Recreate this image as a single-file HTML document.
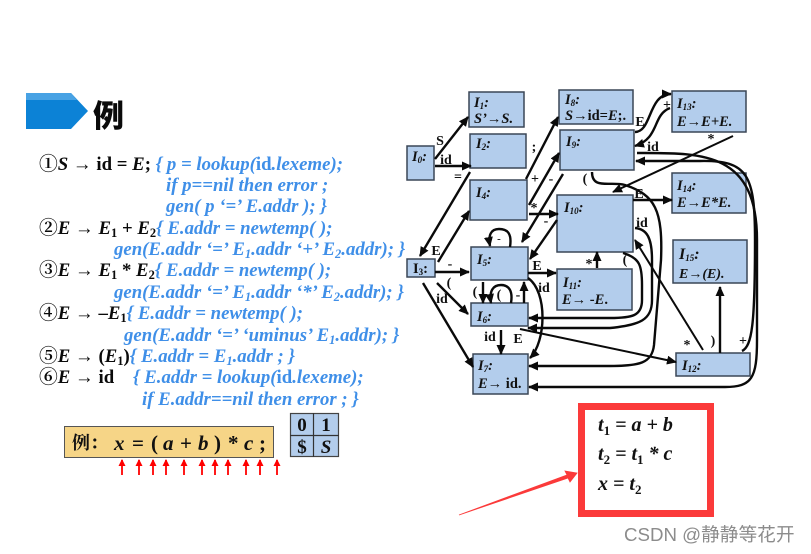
<!DOCTYPE html>
<html><head><meta charset="utf-8">
<style>
html,body{margin:0;padding:0;background:#fff}
#p{position:relative;width:811px;height:554px;overflow:hidden;background:#fff}
svg{position:absolute;left:0;top:0}
.t{font-family:"Liberation Serif","Noto Serif CJK SC",serif;font-weight:bold;font-size:18.8px;fill:#0a0a0a}
.b{fill:#3f8fe8;font-style:italic}
.i{font-style:italic}
.n{fill:#b3cdec;stroke:#3a4656;stroke-width:1.5}
.l{font-family:"Liberation Serif",serif;font-weight:bold;font-size:14.5px;fill:#111}
.m{font-family:"Liberation Serif",serif;font-weight:bold;font-size:14px;fill:#111;text-anchor:middle}
.e{fill:none;stroke:#0a0a0a;stroke-width:2.4}
.r{fill:none;stroke:#f00;stroke-width:1.8}
</style></head><body><div id="p">
<svg width="811" height="554" viewBox="0 0 811 554" xmlns="http://www.w3.org/2000/svg">
<defs>
<marker id="a" markerUnits="userSpaceOnUse" markerWidth="12" markerHeight="10" refX="9" refY="4.500" orient="auto"><path d="M0,0L10,4.500L0,9z" fill="#0a0a0a"/></marker>
<marker id="ra" markerUnits="userSpaceOnUse" markerWidth="8" markerHeight="8" refX="6" refY="3.500" orient="auto"><path d="M0,0L7,3.500L0,7z" fill="#f00"/></marker>
</defs>

<!-- header -->
<path d="M26,93H71L88,111L71,129H26z" fill="#0c82d6"/>
<path d="M26,93H71L77,100H26z" fill="#48a2e4"/>
<text x="93" y="127" font-family="'Noto Sans CJK SC',sans-serif" font-weight="900" font-size="31" fill="#0a0a0a">例</text>

<!-- grammar -->
<text class="t" x="39" y="170">①<tspan class="i">S</tspan> → id = <tspan class="i">E</tspan>; <tspan class="b">{ p = lookup(</tspan><tspan fill="#3f8fe8">id</tspan><tspan class="b">.lexeme);</tspan></text>
<text class="t b" x="166" y="191">if p==nil then error ;</text>
<text class="t b" x="166" y="212">gen( p ‘=’ E.addr ); }</text>
<text class="t" x="39" y="234">②<tspan class="i">E</tspan> → <tspan class="i">E</tspan><tspan font-size="12.500" dy="3">1</tspan><tspan dy="-3"> + </tspan><tspan class="i">E</tspan><tspan font-size="12.500" dy="3">2</tspan><tspan class="b" dy="-3">{ E.addr = newtemp( );</tspan></text>
<text class="t b" x="114" y="255">gen(E.addr ‘=’ E<tspan font-size="12.500" dy="3">1</tspan><tspan dy="-3">.addr ‘+’ E</tspan><tspan font-size="12.500" dy="3">2</tspan><tspan dy="-3">.addr); }</tspan></text>
<text class="t" x="39" y="276">③<tspan class="i">E</tspan> → <tspan class="i">E</tspan><tspan font-size="12.500" dy="3">1</tspan><tspan dy="-3"> * </tspan><tspan class="i">E</tspan><tspan font-size="12.500" dy="3">2</tspan><tspan class="b" dy="-3">{ E.addr = newtemp( );</tspan></text>
<text class="t b" x="114" y="298">gen(E.addr ‘=’ E<tspan font-size="12.500" dy="3">1</tspan><tspan dy="-3">.addr ‘*’ E</tspan><tspan font-size="12.500" dy="3">2</tspan><tspan dy="-3">.addr); }</tspan></text>
<text class="t" x="39" y="319">④<tspan class="i">E</tspan> → –<tspan class="i">E</tspan><tspan font-size="12.500" dy="3">1</tspan><tspan class="b" dy="-3">{ E.addr = newtemp( );</tspan></text>
<text class="t b" x="124" y="341">gen(E.addr ‘=’ ‘uminus’ E<tspan font-size="12.500" dy="3">1</tspan><tspan dy="-3">.addr); }</tspan></text>
<text class="t" x="39" y="362">⑤<tspan class="i">E</tspan> → (<tspan class="i">E</tspan><tspan font-size="12.500" dy="3">1</tspan><tspan dy="-3">)</tspan><tspan class="b">{ E.addr = E</tspan><tspan class="b" font-size="12.500" dy="3">1</tspan><tspan class="b" dy="-3">.addr ; }</tspan></text>
<text class="t" x="39" y="383">⑥<tspan class="i">E</tspan> → id<tspan class="b" x="133">{ E.addr = lookup(</tspan><tspan fill="#3f8fe8">id</tspan><tspan class="b">.lexeme);</tspan></text>
<text class="t b" x="142" y="405">if E.addr==nil then error ; }</text>

<!-- input -->
<rect x="64.500" y="426.500" width="209" height="31" fill="#f6d587" stroke="#555" stroke-width="1"/>
<text x="72" y="449" font-family="'Noto Serif CJK SC',serif" font-weight="bold" font-size="18" fill="#111">例：</text>
<g font-family="'Liberation Serif',serif" font-weight="bold" font-size="21" fill="#111">
<text x="114" y="450" class="i">x</text><text x="132" y="450">=</text><text x="151" y="450">(</text><text x="163" y="450" class="i">a</text><text x="180" y="450">+</text><text x="198" y="450" class="i">b</text><text x="214" y="450">)</text><text x="228" y="450">*</text><text x="244" y="450" class="i">c</text><text x="259" y="450">;</text>
</g>
<path class="r" marker-end="url(#ra)" d="M122,475V460"/><path class="r" marker-end="url(#ra)" d="M139,475V460"/><path class="r" marker-end="url(#ra)" d="M153,475V460"/><path class="r" marker-end="url(#ra)" d="M166,475V460"/><path class="r" marker-end="url(#ra)" d="M184,475V460"/><path class="r" marker-end="url(#ra)" d="M202,475V460"/><path class="r" marker-end="url(#ra)" d="M215,475V460"/><path class="r" marker-end="url(#ra)" d="M228,475V460"/><path class="r" marker-end="url(#ra)" d="M246,475V460"/><path class="r" marker-end="url(#ra)" d="M260,475V460"/><path class="r" marker-end="url(#ra)" d="M277,475V460"/>
<!-- stack -->
<rect x="290.500" y="413.500" width="48" height="43" fill="#b3cdec" stroke="#444" stroke-width="1.200"/>
<path d="M313.500,413V457M290,435.500H339" stroke="#333" stroke-width="1.200"/>
<g font-family="'Liberation Serif',serif" font-weight="bold" font-size="19" fill="#111" text-anchor="middle">
<text x="302" y="431">0</text><text x="326" y="431">1</text><text x="302" y="453">$</text><text x="326" y="453" class="i">S</text></g>

<!-- nodes -->
<rect class="n" x="407" y="146" width="27" height="34"/>
<rect class="n" x="469" y="92" width="55" height="35"/>
<rect class="n" x="470" y="134" width="56" height="34"/>
<rect class="n" x="470" y="180" width="57" height="40"/>
<rect class="n" x="559" y="90" width="74" height="34"/>
<rect class="n" x="560" y="130" width="74" height="40"/>
<rect class="n" x="557" y="195" width="76" height="57"/>
<rect class="n" x="672" y="91" width="74" height="41"/>
<rect class="n" x="672" y="173" width="74" height="40"/>
<rect class="n" x="673" y="240" width="74" height="43"/>
<rect class="n" x="676" y="353" width="74" height="23"/>
<rect class="n" x="407" y="259" width="28" height="18"/>
<rect class="n" x="471" y="247" width="57" height="33"/>
<rect class="n" x="471" y="303" width="57" height="23"/>
<rect class="n" x="473" y="354" width="55" height="40"/>
<rect class="n" x="557" y="269" width="75" height="41"/>

<!-- node labels -->
<text x="412" y="161" class="l i">I<tspan font-size="9" dy="2">0</tspan><tspan dy="-2">:</tspan></text>
<text x="474" y="107" class="l i">I<tspan font-size="9" dy="2">1</tspan><tspan dy="-2">:</tspan></text>
<text x="474" y="123" class="l i">S’→S.</text>
<text x="476" y="148" class="l i">I<tspan font-size="9" dy="2">2</tspan><tspan dy="-2">:</tspan></text>
<text x="476" y="197" class="l i">I<tspan font-size="9" dy="2">4</tspan><tspan dy="-2">:</tspan></text>
<text x="565" y="104" class="l i">I<tspan font-size="9" dy="2">8</tspan><tspan dy="-2">:</tspan></text>
<text x="565" y="120" class="l"><tspan class="i">S</tspan>→id=<tspan class="i">E</tspan>;.</text>
<text x="566" y="146" class="l i">I<tspan font-size="9" dy="2">9</tspan><tspan dy="-2">:</tspan></text>
<text x="564" y="212" class="l i">I<tspan font-size="9" dy="2">10</tspan><tspan dy="-2">:</tspan></text>
<text x="677" y="108" class="l i">I<tspan font-size="9" dy="2">13</tspan><tspan dy="-2">:</tspan></text>
<text x="677" y="126" class="l i">E→E+E.</text>
<text x="677" y="190" class="l i">I<tspan font-size="9" dy="2">14</tspan><tspan dy="-2">:</tspan></text>
<text x="677" y="207" class="l i">E→E*E.</text>
<text x="679" y="259" class="l i" style="font-size:16px">I<tspan font-size="9" dy="2">15</tspan><tspan dy="-2">:</tspan></text>
<text x="679" y="278" class="l i" style="font-size:14px">E→(E).</text>
<text x="682" y="370" class="l i">I<tspan font-size="9" dy="2">12</tspan><tspan dy="-2">:</tspan></text>
<text x="413" y="273" class="l">I<tspan font-size="9" dy="2">3</tspan><tspan dy="-2">:</tspan></text>
<text x="477" y="264" class="l i">I<tspan font-size="9" dy="2">5</tspan><tspan dy="-2">:</tspan></text>
<text x="477" y="321" class="l i">I<tspan font-size="9" dy="2">6</tspan><tspan dy="-2">:</tspan></text>
<text x="478" y="370" class="l i">I<tspan font-size="9" dy="2">7</tspan><tspan dy="-2">:</tspan></text>
<text x="478" y="388" class="l"><tspan class="i">E</tspan>→ id.</text>
<text x="563" y="287" class="l i">I<tspan font-size="9" dy="2">11</tspan><tspan dy="-2">:</tspan></text>
<text x="562" y="304" class="l"><tspan class="i">E</tspan>→ -<tspan class="i">E</tspan>.</text>

<!-- edges -->
<path class="e" marker-end="url(#a)" d="M435,159L468,117"/>
<path class="e" marker-end="url(#a)" d="M435,166H471"/>
<path class="e" marker-end="url(#a)" d="M526,179L558,117"/>
<path class="e" marker-end="url(#a)" d="M529,205L559,153"/>
<path class="e" marker-end="url(#a)" d="M563,174L522,242"/>
<path class="e" marker-end="url(#a)" d="M529,214H558"/>
<path class="e" marker-end="url(#a)" d="M557,220L530,259"/>
<path class="e" marker-end="url(#a)" d="M470,172L420,256"/>
<path class="e" marker-end="url(#a)" d="M438,262L469,211"/>
<path class="e" marker-end="url(#a)" d="M435,272H469"/>
<path class="e" marker-end="url(#a)" d="M437,283L468,314"/>
<path class="e" marker-end="url(#a)" d="M423,283L473,367"/>
<path class="e" marker-end="url(#a)" d="M528,273H556"/>
<path class="e" marker-end="url(#a)" d="M483,282V303"/>
<path class="e" marker-end="url(#a)" d="M524,303V282"/>
<path class="e" marker-end="url(#a)" d="M501,330V354"/>
<path class="e" marker-end="url(#a)" d="M510,247C512,234 508,229 499,229C491,229 488,235 490,246"/>
<path class="e" marker-end="url(#a)" d="M511,303C513,291 509,285 501,285C493,285 489,291 491,303"/>
<path class="e" marker-end="url(#a)" d="M528,278C548,292 546,342 530,358"/>
<path class="e" marker-end="url(#a)" d="M635,132C652,132 648,94 671,94"/>
<path class="e" marker-end="url(#a)" d="M670,108C652,115 660,138 635,146"/>
<path class="e" marker-end="url(#a)" d="M637,153C700,153 757,150 757,240V340C757,378 752,387 725,387H529"/>
<path class="e" marker-end="url(#a)" d="M742,351C752,346 755,325 755,240C755,175 748,160 700,161H636"/>
<path class="e" marker-end="url(#a)" d="M733,136L613,192" style="stroke-width:2"/>
<path class="e" marker-end="url(#a)" d="M592,172C592,190 610,181 625,185C655,195 663,210 661,260L654,345C652,363 640,366 610,366H529"/>
<path class="e" marker-end="url(#a)" d="M633,200H672"/>
<path class="e" marker-end="url(#a)" d="M635,228C647,229 652,238 652,260V300C652,320 640,325 610,328H528"/>
<path class="e" marker-end="url(#a)" d="M623,253C640,258 642,266 642,285V300C642,316 632,318 610,318H529"/>
<path class="e" marker-end="url(#a)" d="M520,329L676,362" style="stroke-width:2"/>
<path class="e" marker-end="url(#a)" d="M597,268V252"/>
<path class="e" marker-end="url(#a)" d="M720,353V287"/>
<path class="e" marker-end="url(#a)" d="M703,350L635,240" style="stroke-width:2"/>

<!-- edge labels -->
<g>
<text class="m" x="440" y="145">S</text><text class="m" x="446" y="164">id</text><text class="m" x="458" y="181">=</text>
<text class="m" x="534" y="151">;</text><text class="m" x="535" y="183">+</text><text class="m" x="551" y="183">-</text>
<text class="m" x="534" y="212">*</text><text class="m" x="546" y="225">-</text><text class="m" x="585" y="183">(</text>
<text class="m" x="640" y="126">E</text><text class="m" x="667" y="109">+</text><text class="m" x="653" y="151">id</text>
<text class="m" x="711" y="143">*</text><text class="m" x="639" y="198">E</text><text class="m" x="642" y="227">id</text>
<text class="m" x="625" y="264">(</text><text class="m" x="589" y="268">*</text>
<text class="m" x="436" y="255">E</text><text class="m" x="450" y="268">-</text><text class="m" x="449" y="287">(</text>
<text class="m" x="442" y="303">id</text><text class="m" x="537" y="270">E</text><text class="m" x="544" y="292">id</text>
<text class="m" x="475" y="296">(</text><text class="m" x="499" y="299">(</text><text class="m" x="518" y="299">-</text>
<text class="m" x="490" y="341">id</text><text class="m" x="518" y="343">E</text>
<text class="m" x="687" y="349">*</text><text class="m" x="713" y="345">)</text><text class="m" x="743" y="345">+</text>
<text class="m" x="499" y="242" style="font-size:11px">-</text>
</g>

<!-- red box and arrow -->
<rect x="581.500" y="406.500" width="129" height="107" fill="#fff" stroke="#fb3a3a" stroke-width="7"/>
<path d="M459,515L567,475L565,471L577,473L570,482L568,478z" fill="#fb3a3a" stroke="#fb3a3a" stroke-width="0.800"/>
<g font-family="'Liberation Serif',serif" font-weight="bold" font-size="20" fill="#111" font-style="italic">
<text x="598" y="431">t<tspan font-size="13" dy="4" font-style="normal">1</tspan><tspan dy="-4"> = a + b</tspan></text>
<text x="598" y="460">t<tspan font-size="13" dy="4" font-style="normal">2</tspan><tspan dy="-4"> = t</tspan><tspan font-size="13" dy="4" font-style="normal">1</tspan><tspan dy="-4"> * c</tspan></text>
<text x="598" y="490">x = t<tspan font-size="13" dy="4" font-style="normal">2</tspan></text>
</g>
<text x="624" y="541" font-family="'Liberation Sans','Noto Sans CJK SC',sans-serif" font-size="18.700" fill="#8c8c8c">CSDN @静静等花开</text>
</svg>
</div></body></html>
